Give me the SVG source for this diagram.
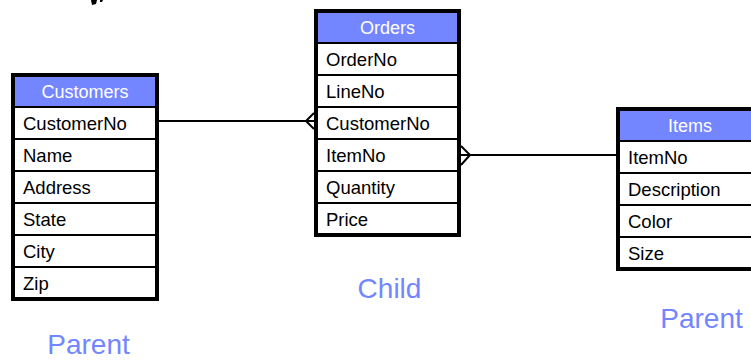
<svg xmlns="http://www.w3.org/2000/svg" width="751" height="360" viewBox="0 0 751 360">
<style>
.box{fill:#fff;stroke:#000;stroke-width:4}
.hdr{fill:#7386ff}
.sep{stroke:#000;stroke-width:2}
.ht{font-family:"Liberation Sans",Arial,sans-serif;font-size:18px;fill:#fff;text-anchor:middle}
.rt{font-family:"Liberation Sans",Arial,sans-serif;font-size:18.5px;fill:#000}
.lbl{font-family:"Liberation Sans",Arial,sans-serif;font-size:28px;fill:#7386ff;text-anchor:middle}
.con{stroke:#000;stroke-width:2;fill:none}
</style>
<rect width="751" height="360" fill="#fff"/>
<g id="fragment">
<path d="M91,0 L97,0 L96,4 L92,5 Z" fill="#000"/>
<path d="M100,0 L103,0 L102,2 L100,2 Z" fill="#000"/>
</g>
<g id="customers">
<rect class="box" x="13" y="75" width="144" height="224"/>
<rect class="hdr" x="15" y="77" width="140" height="30"/>
<line class="sep" x1="13" y1="107" x2="157" y2="107"/>
<line class="sep" x1="13" y1="139" x2="157" y2="139"/>
<line class="sep" x1="13" y1="171" x2="157" y2="171"/>
<line class="sep" x1="13" y1="203" x2="157" y2="203"/>
<line class="sep" x1="13" y1="235" x2="157" y2="235"/>
<line class="sep" x1="13" y1="267" x2="157" y2="267"/>
<text class="ht" x="85" y="98">Customers</text>
<text class="rt" x="23" y="130">CustomerNo</text>
<text class="rt" x="23" y="162">Name</text>
<text class="rt" x="23" y="194">Address</text>
<text class="rt" x="23" y="226">State</text>
<text class="rt" x="23" y="258">City</text>
<text class="rt" x="23" y="290">Zip</text>
</g>
<g id="orders">
<rect class="box" x="316" y="11" width="143" height="224"/>
<rect class="hdr" x="318" y="13" width="139" height="30"/>
<line class="sep" x1="316" y1="43" x2="459" y2="43"/>
<line class="sep" x1="316" y1="75" x2="459" y2="75"/>
<line class="sep" x1="316" y1="107" x2="459" y2="107"/>
<line class="sep" x1="316" y1="139" x2="459" y2="139"/>
<line class="sep" x1="316" y1="171" x2="459" y2="171"/>
<line class="sep" x1="316" y1="203" x2="459" y2="203"/>
<text class="ht" x="387.5" y="34">Orders</text>
<text class="rt" x="326" y="66">OrderNo</text>
<text class="rt" x="326" y="98">LineNo</text>
<text class="rt" x="326" y="130">CustomerNo</text>
<text class="rt" x="326" y="162">ItemNo</text>
<text class="rt" x="326" y="194">Quantity</text>
<text class="rt" x="326" y="226">Price</text>
</g>
<g id="items">
<rect class="box" x="618" y="109" width="144" height="160"/>
<rect class="hdr" x="620" y="111" width="140" height="30"/>
<line class="sep" x1="618" y1="141" x2="762" y2="141"/>
<line class="sep" x1="618" y1="173" x2="762" y2="173"/>
<line class="sep" x1="618" y1="205" x2="762" y2="205"/>
<line class="sep" x1="618" y1="237" x2="762" y2="237"/>
<text class="ht" x="690" y="132">Items</text>
<text class="rt" x="628" y="164">ItemNo</text>
<text class="rt" x="628" y="196">Description</text>
<text class="rt" x="628" y="228">Color</text>
<text class="rt" x="628" y="260">Size</text>
</g>
<g id="connectors">
<line class="con" x1="159" y1="121" x2="314" y2="121"/>
<path class="con" d="M314,113 L306,121 L314,129"/>
<line class="con" x1="461" y1="155" x2="616" y2="155"/>
<path class="con" d="M461,146 L470,155 L461,165"/>
</g>
<g id="labels">
<text class="lbl" x="88.5" y="354">Parent</text>
<text class="lbl" x="389.5" y="298">Child</text>
<text class="lbl" x="701.5" y="328">Parent</text>
</g>
</svg>
